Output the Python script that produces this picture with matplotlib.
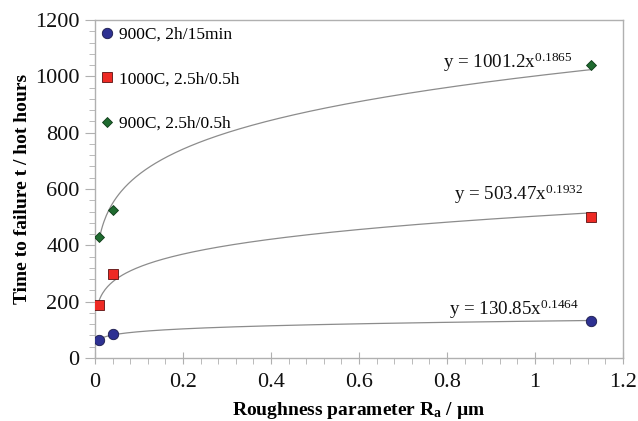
import numpy as np
import matplotlib
matplotlib.use("Agg")
import matplotlib.pyplot as plt
from matplotlib.ticker import MultipleLocator

plt.rcParams['font.family'] = ['Liberation Serif', 'DejaVu Serif']
plt.rcParams['mathtext.fontset'] = 'custom'
plt.rcParams['mathtext.rm'] = 'Liberation Serif'
plt.rcParams['mathtext.bf'] = 'Liberation Serif:bold'
plt.rcParams['mathtext.it'] = 'Liberation Serif:italic'

# Data
ra_values = [0.009, 0.042, 1.127]
series_labels = ["900C, 2h/15min", "1000C, 2.5h/0.5h", "900C, 2.5h/0.5h"]
t_900_2h = [64, 85, 131]
t_1000_25h = [189, 299, 500]
t_900_25h = [431, 527, 1040]
fit_coef = [130.85, 503.47, 1001.2]
fit_exp = [0.1464, 0.1932, 0.1865]
fit_texts = ["y = 130.85x$^{0.1464}$", "y = 503.47x$^{0.1932}$", "y = 1001.2x$^{0.1865}$"]

series = [t_900_2h, t_1000_25h, t_900_25h]
styles = [
    dict(marker='o', color='#2e3192', ms=7.5, mec='#1a1a4a'),
    dict(marker='s', color='#ee2a24', ms=7.5, mec='#5a1010'),
    dict(marker='D', color='#1f6b30', ms=5.5, mec='#0f3a18'),
]
text_pos = [(1.100, 153), (1.111, 561), (1.085, 1030)]

fig = plt.figure(figsize=(6.38, 4.21), dpi=100)
ax = fig.add_axes([95/638, 1-358/421, (623-95)/638, (358-20)/421])

xs = np.linspace(ra_values[0], ra_values[-1], 400)
for vals, st, lab, a, b, txt, tp in zip(series, styles, series_labels, fit_coef, fit_exp, fit_texts, text_pos):
    ax.plot(xs, a * xs ** b, color='#8c8c8c', lw=0.9, zorder=1)
    ax.plot(ra_values, vals, linestyle='none', marker=st['marker'], color=st['color'],
            ms=st['ms'], mec=st['mec'], mew=0.6, label=lab, zorder=3)
    ax.text(tp[0], tp[1], txt, ha='right', va='baseline', fontsize=13.7, color='#111111')

ax.set_xlim(0, 1.2)
ax.set_ylim(0, 1200)
ax.xaxis.set_minor_locator(MultipleLocator(0.04))
ax.yaxis.set_major_locator(MultipleLocator(200))
ax.yaxis.set_minor_locator(MultipleLocator(40))
ax.set_xticks([0, 0.2, 0.4, 0.6, 0.8, 1.0, 1.2])
ax.set_xticklabels(['0', '0.2', '0.4', '0.6', '0.8', '1', '1.2'])

for sp in ax.spines.values():
    sp.set_color('#b0b0b0')
    sp.set_linewidth(1.0)
ax.tick_params(axis='x', which='major', direction='inout', length=9, color='#b0b0b0',
               labelsize=16, pad=6, labelcolor='#111111')
ax.tick_params(axis='x', which='minor', direction='out', length=4, color='#b0b0b0')
ax.tick_params(axis='y', which='major', direction='out', length=7, color='#b0b0b0',
               labelsize=16, pad=4, labelcolor='#111111')
ax.tick_params(axis='y', which='minor', direction='out', length=4, color='#b0b0b0')

ax.set_xlabel(r'Roughness parameter $\mathbf{R_a}$ / µm', fontsize=14, fontweight='bold', labelpad=6)
ax.set_ylabel('Time to failure t / hot hours', fontsize=14, fontweight='bold', labelpad=3)

leg = ax.legend(loc='upper left', frameon=False, fontsize=12.5, handlelength=0.6,
                handletextpad=0.4, labelspacing=1.62, borderaxespad=0.2, borderpad=0.2)

fig.savefig('out.png', dpi=100)
